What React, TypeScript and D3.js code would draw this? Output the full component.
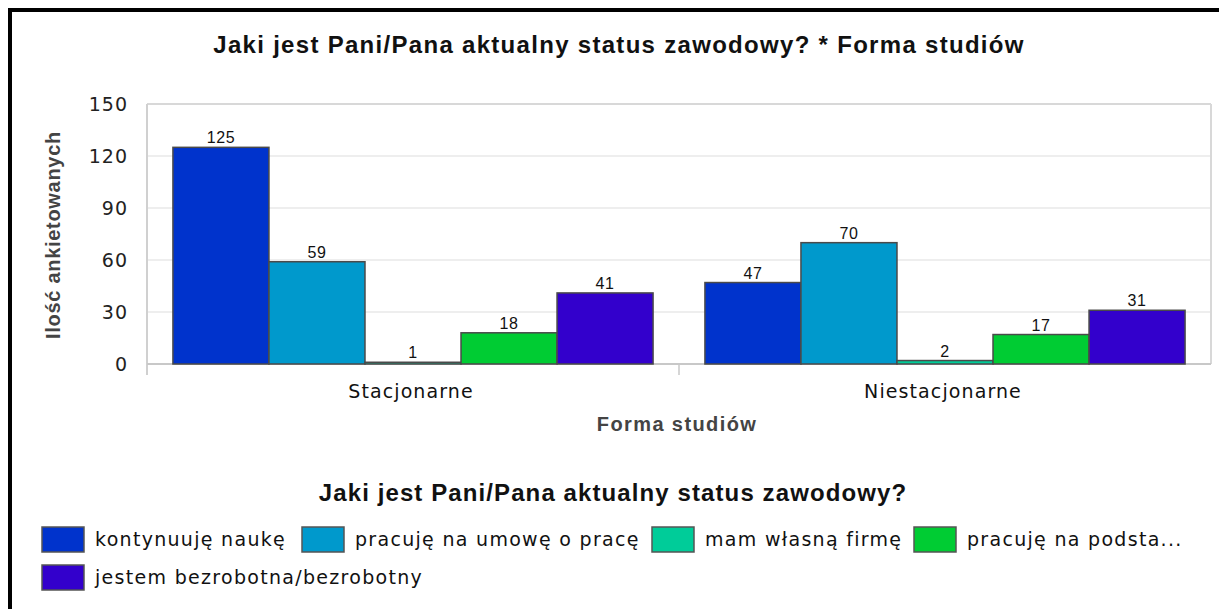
import React from 'react';
import * as d3 from 'd3';

const categories = ['Stacjonarne', 'Niestacjonarne'];
const seriesNames = [
  'kontynuuję naukę',
  'pracuję na umowę o pracę',
  'mam własną firmę',
  'pracuję na podsta...',
  'jestem bezrobotna/bezrobotny'
];
const seriesColors = ['#0033cc', '#0099cc', '#00cc99', '#00cc33', '#3300cc'];
const stacjonarneValues = [125, 59, 1, 18, 41];
const niestacjonarneValues = [47, 70, 2, 17, 31];
const yTicks = [0, 30, 60, 90, 120, 150];

const valuesByCategory = [stacjonarneValues, niestacjonarneValues];

const plot = { left: 147, right: 1211, top: 104, bottom: 364 };
const tickFont = '"DejaVu Sans", sans-serif';
const boldFont = '"Liberation Sans", Arial, sans-serif';

// legend item positions (first row holds 4 items, then wraps)
const legendX = [42, 302, 652, 914];

export default function App() {
  const xScale = d3.scaleBand<string>()
    .domain(categories)
    .range([plot.left, plot.right]);

  const innerScale = d3.scaleBand<string>()
    .domain(seriesNames)
    .range([0, xScale.bandwidth()])
    .paddingOuter(0.27);

  const yScale = d3.scaleLinear()
    .domain([0, 150])
    .range([plot.bottom, plot.top]);

  const legendPos = seriesNames.map((_, i) => ({
    x: legendX[i % 4],
    y: 527 + Math.floor(i / 4) * 38
  }));

  return (
    <svg width={1219} height={609}
         style={{ position: 'absolute', left: 0, top: 0, background: '#fff' }}>
      <rect x={10} y={10} width={1300} height={700} fill="#fff" stroke="#000" strokeWidth={4} />

      <text x={619} y={53} textAnchor="middle" fontFamily={boldFont} fontWeight="bold"
            fontSize={24} letterSpacing={1.3} fill="#111">
        Jaki jest Pani/Pana aktualny status zawodowy? * Forma studiów
      </text>

      {/* grid */}
      {yTicks.map(t => (
        <line key={'g' + t} x1={plot.left} x2={plot.right} y1={yScale(t)} y2={yScale(t)}
              stroke="#e8e8e8" strokeWidth={1.5} />
      ))}
      <line x1={plot.right} x2={plot.right} y1={plot.top} y2={plot.bottom} stroke="#d8d8d8" strokeWidth={2} />
      <line x1={plot.left} x2={plot.right} y1={plot.top} y2={plot.top} stroke="#d8d8d8" strokeWidth={2} />
      <line x1={plot.left} x2={plot.left} y1={plot.top} y2={plot.bottom + 11} stroke="#d0d0d0" strokeWidth={2} />
      <line x1={plot.left} x2={plot.right} y1={plot.bottom} y2={plot.bottom} stroke="#c8c8c8" strokeWidth={2} />
      <line x1={xScale('Niestacjonarne')} x2={xScale('Niestacjonarne')} y1={plot.bottom} y2={plot.bottom + 11}
            stroke="#c8c8c8" strokeWidth={1.5} />

      {yTicks.map(t => (
        <text key={'t' + t} x={128} y={yScale(t) + 7} textAnchor="end" fontFamily={tickFont}
              fontSize={19} letterSpacing={1} fill="#222">{t}</text>
      ))}

      {categories.map((c, ci) => (
        <g key={c} transform={`translate(${xScale(c)},0)`}>
          {seriesNames.map((s, si) => {
            const v = valuesByCategory[ci][si];
            const x = innerScale(s) as number;
            return (
              <g key={s}>
                <rect x={x} y={yScale(v)} width={innerScale.bandwidth()} height={plot.bottom - yScale(v)}
                      fill={seriesColors[si]} stroke="#4a4a4a" strokeWidth={1.5} />
                <text x={x + innerScale.bandwidth() / 2} y={yScale(v) - 4} textAnchor="middle"
                      fontFamily={boldFont} fontSize={16} letterSpacing={0.6} fill="#111">{v}</text>
              </g>
            );
          })}
          <text x={xScale.bandwidth() / 2 - 2} y={398} textAnchor="middle" fontFamily={tickFont}
                fontSize={19} fill="#111" letterSpacing={1.1}>{c}</text>
        </g>
      ))}

      <text x={677} y={431} textAnchor="middle" fontFamily={boldFont} fontWeight="bold"
            fontSize={20} letterSpacing={1.4} fill="#444">Forma studiów</text>

      <text transform={`translate(60,235) rotate(-90)`} textAnchor="middle" fontFamily={boldFont}
            fontWeight="bold" fontSize={20} letterSpacing={0.7} fill="#444">Ilość ankietowanych</text>

      <text x={613} y={501} textAnchor="middle" fontFamily={boldFont} fontWeight="bold"
            fontSize={24} letterSpacing={1.1} fill="#111">Jaki jest Pani/Pana aktualny status zawodowy?</text>

      {seriesNames.map((s, i) => (
        <g key={'l' + s} transform={`translate(${legendPos[i].x},${legendPos[i].y})`}>
          <rect x={0} y={0} width={42} height={25} fill={seriesColors[i]} stroke="#555" strokeWidth={1.5} />
          <text x={53} y={19} fontFamily={tickFont} fontSize={19} fill="#111" letterSpacing={1.3}>{s}</text>
        </g>
      ))}
    </svg>
  );
}
